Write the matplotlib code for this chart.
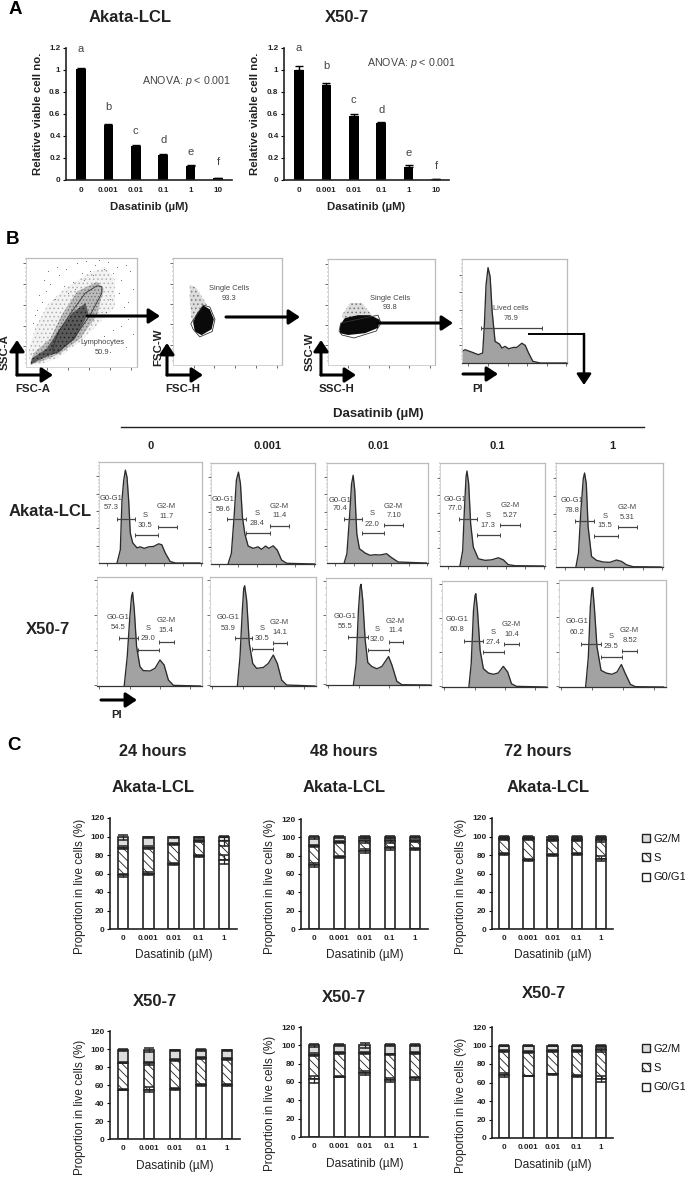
import matplotlib
matplotlib.use("Agg")
import numpy as np
import matplotlib.pyplot as plt
from matplotlib.legend import Legend
from matplotlib.patches import Polygon, Patch

plt.rcParams["font.family"] = ["Liberation Sans", "DejaVu Sans"]
plt.rcParams["mathtext.fontset"] = "custom"
plt.rcParams["mathtext.rm"] = "Liberation Sans"
plt.rcParams["mathtext.it"] = "Liberation Sans:italic"
plt.rcParams["hatch.linewidth"] = 0.6

W, H = 685, 1180
DARK = "#222222"
GRAY_TXT = "#444444"

# panel A
doses_a = ["0", "0.001", "0.01", "0.1", "1", "10"]
akata_viable = [1.01, 0.50, 0.305, 0.23, 0.13, 0.015]
akata_viable_err = [0.01, 0.005, 0.015, 0.005, 0.005, 0.002]
x50_viable = [1.0, 0.865, 0.585, 0.52, 0.12, 0.005]
x50_viable_err = [0.04, 0.02, 0.015, 0.005, 0.02, 0.002]
letters = ["a", "b", "c", "d", "e", "f"]
akata_letter_y = [1.19, 0.665, 0.445, 0.364, 0.255, 0.164]
x50_letter_y = [1.20, 1.036, 0.727, 0.636, 0.245, 0.127]

# panel B, gating plots (percent of the axes range)
lymph_haze = [(4.2, 1.5), (2.1, 13.8), (8, 35), (20, 58), (35, 72), (55, 85), (72, 92), (80, 80), (80, 55),
              (66.9, 41.5), (48.8, 23), (27.7, 7.7), (9.6, 1.5)]
lymph_mid = [(4.2, 3), (6.6, 12.3), (21.7, 26), (32.2, 47.7), (46, 69.2), (64, 78.2), (70, 72),
             (64, 47.7), (48.8, 26), (30.7, 12.3), (12.6, 4.6)]
lymph_dark = [(4.2, 2), (5.1, 7.7), (18.7, 16.9), (30.7, 35.4), (41.3, 49.2), (53.3, 58.5), (56.3, 49.2),
              (44.3, 26), (29.2, 13.8), (11.1, 6.2)]
lymph_gate = [(24.7, 12.3), (29.2, 13.8), (42.8, 26), (57.8, 47.7), (68.3, 67.7), (68.3, 73.8), (63.9, 74.5),
              (53.3, 67.7), (41.3, 50.8), (29.2, 32.3), (24.1, 16.9)]
lymph_sparse_x = [6, 10, 14, 8, 18, 12, 22, 16, 26, 30, 20, 34, 28, 38, 42, 36, 46, 50, 44, 54, 58, 52, 62, 66, 60, 70, 74,
                  68, 78, 82, 76, 86, 90, 84, 94, 88, 96, 92, 72, 80, 86, 92, 96, 78, 84, 90, 70, 76]
lymph_sparse_y = [40, 52, 60, 48, 70, 66, 76, 80, 62, 84, 88, 74, 92, 68, 78, 90, 95, 86, 72, 97, 88, 80, 94, 98, 84, 90, 96,
                  70, 86, 92, 62, 80, 94, 68, 88, 55, 72, 60, 50, 48, 38, 44, 30, 34, 24, 18, 28, 14]
fsc_haze = [(15.4, 75.2), (21.5, 72), (30.8, 56.7), (32.3, 44.3), (20, 35), (16.9, 44.3), (15.4, 59.9)]
fsc_dark = [(21.5, 47.4), (27.7, 55.7), (33.8, 52), (37.5, 42.7), (35.4, 33.4), (26.2, 27.9), (20, 31.3), (18.5, 39.7)]
fsc_gate = [(16.3, 38.7), (27.7, 56), (33.8, 54.2), (38.5, 42.7), (36, 31.3), (24.6, 26.3), (18.5, 33.4)]
ssc_haze = [(13, 47), (20.6, 58.5), (31.8, 58.5), (41, 47), (48.6, 42.5), (34.6, 37.7), (15.9, 37.7)]
ssc_dark = [(11.2, 37.7), (15.9, 44.3), (28, 47), (39.3, 47), (48.6, 42.5), (46.7, 35), (34.6, 30), (18.7, 28.3), (11.2, 30)]
ssc_gate = [(10.3, 32), (12, 39.6), (46.7, 47), (49.5, 39.6), (45, 32), (24.3, 25.5), (13, 28.3)]
live_x = [0, 2.9, 9.2, 15.6, 19.7, 21.3, 22.9, 24.8, 26.8, 28.7, 31.5, 35.7, 37.9, 41.1, 44.3, 49, 52.2, 57, 60.2, 63.4, 67.5, 74.5, 100]
live_y = [11.2, 12.8, 10.5, 8, 9.6, 36.7, 75, 91.7, 83, 49.5, 20.8, 18.2, 14.4, 16, 13.7, 15, 15, 19, 17, 9.6, 1.6, 0, 0]

# panel B, cell cycle histograms
akata_hist_x = [
    [17.5, 20.7, 22.3, 24, 25.6, 27.2, 28.8, 30.4, 32.7, 36.9, 40, 44, 48.2, 53, 58, 61, 64.3, 69, 74, 98],
    [16.4, 19.6, 22.2, 24.4, 26.4, 28.3, 30.2, 32.5, 35.7, 40.5, 45.3, 48.6, 52.4, 55.6, 59.8, 63.7, 67.8, 72.7, 100],
    [17, 19.7, 22.3, 24.3, 25.9, 27.5, 29.5, 32.1, 37.7, 42.6, 47.5, 52.5, 59, 64, 70.5, 98.4],
    [19, 21.6, 23.2, 24.8, 25.7, 27.3, 29.2, 31.7, 36.5, 42.9, 49.2, 55.6, 60.3, 65, 71.4, 98.4],
    [18.6, 21, 23.3, 25.5, 26.7, 28.3, 30, 33.2, 37.9, 44.1, 50.3, 56.5, 61.2, 65.8, 72, 98.4],
]
akata_hist_y = [
    [0, 13, 62, 82, 92, 85, 62, 29.5, 20, 15, 16, 14.5, 16, 16.4, 19, 18, 10, 1.6, 0, 0],
    [0, 10.5, 46.7, 83, 91, 79.6, 46.7, 30, 17.8, 15.5, 17, 14.5, 17.8, 15.5, 18, 13.8, 4, 0.7, 0],
    [0, 9.3, 46, 79, 87.7, 72.7, 29.3, 14.3, 10, 7.7, 8.3, 8, 9.3, 5.3, 1, 0],
    [0, 15, 54, 86.4, 92.2, 80, 41, 18.4, 7, 5.5, 6, 8, 6, 1.3, 0.3, 0],
    [0, 13.4, 54.8, 85, 90.4, 80.3, 38.9, 10.2, 6.4, 4.8, 4.5, 6.7, 5.4, 2.2, 0.3, 0],
]
x50_hist_x = [
    [25.9, 28.8, 31.3, 32.9, 33.9, 35.5, 37.7, 40.9, 44.1, 50.5, 55.3, 60, 63.9, 68, 72.8, 98.4],
    [25.8, 28.3, 30.5, 31.8, 32.7, 34.6, 37.1, 40.3, 44, 50.3, 55, 59.7, 63.5, 67.6, 72.3, 99],
    [26.1, 28.7, 30.9, 32.5, 33.4, 35, 37.3, 39.8, 43.6, 48.4, 53.2, 59.6, 62.7, 67.5, 72.3, 99.4],
    [25.6, 27.8, 30, 31.5, 32.2, 33.8, 36.3, 39.4, 44.2, 48.9, 53.6, 58.4, 62.5, 66.2, 71, 99.4],
    [24.9, 27.4, 29.3, 30.8, 31.5, 33, 35.5, 39.3, 44.2, 49.5, 54.2, 58.3, 62, 66.7, 71.3, 97.8],
]
x50_hist_y = [
    [0, 27, 63.8, 82.2, 85.9, 70, 36.2, 17.8, 14.1, 13.8, 16.3, 23.9, 19.3, 5.5, 0.6, 0],
    [0, 26.8, 69.5, 89.3, 92, 78.7, 39, 20.7, 16.2, 17, 20.7, 28.4, 20.7, 5.5, 0.9, 0],
    [0, 20.4, 70, 91.6, 94.1, 79.3, 42.1, 21, 17.3, 15.2, 17.3, 26.6, 18.9, 3.4, 0.3, 0],
    [0, 22, 72.3, 86.5, 88, 72.3, 34.6, 17.3, 13.2, 12, 13.2, 19.5, 14.2, 3.1, 0.6, 0],
    [0, 28, 75, 92.2, 93, 75, 37.5, 15.6, 13, 11.9, 14, 21, 12.5, 2.5, 0.3, 0],
]
# gate: start, g0 end / s start, s end / g2 start, g2 end, then heights of the g0, s, g2 gates
akata_gates = [
    (17, 34.5, 57, 75.7, 44, 28, 36), (15.8, 34, 56.6, 75.2, 44.7, 31, 38), (17, 34.8, 56.7, 75.4, 44, 30, 37.7),
    (17.8, 35.6, 57.5, 76.2, 45.3, 30.4, 39.5), (18, 35.7, 57.8, 76, 44, 30, 38),
]
x50_gates = [
    (20.8, 39.3, 59.4, 73.2, 43.6, 33.4, 40.8), (23.6, 39.3, 59.4, 73, 44, 33.8, 39.6), (21, 39.8, 59.6, 73.2, 45.2, 32.8, 40.6),
    (20.8, 39.4, 59.3, 73.2, 43.7, 32.7, 40.3), (20.2, 39.3, 59.2, 72.9, 40, 28, 33.8),
]
akata_pct = [("57.3", "30.5", "11.7"), ("59.6", "28.4", "11.4"), ("70.4", "22.0", "7.10"), ("77.0", "17.3", "5.27"), ("78.8", "15.5", "5.31")]
x50_pct = [("54.5", "29.0", "15.4"), ("53.9", "30.5", "14.1"), ("55.5", "32.0", "11.4"), ("60.8", "27.4", "10.4"), ("60.2", "29.5", "8.52")]
# label anchor: g0 x, g0 y name, g0 y value, s x, s y name, s y value, g2 x, g2 y name, g2 y value
akata_lab = [
    (12, 64, 54.6, 45, 47, 37.4, 65.4, 55.7, 46), (11.6, 63.8, 54, 44.4, 49.7, 40, 65.6, 57, 47.7), (12.5, 62.7, 54, 45, 49.3, 39, 66, 57, 47.3),
    (14.6, 65, 56.3, 46, 49.5, 39.8, 66.7, 58.6, 49.2), (15, 63.7, 54, 46, 49, 39.5, 66.5, 57.3, 47.8),
]
x50_lab = [
    (20, 63.2, 54, 48.9, 52.5, 43.3, 66, 59.8, 50.6), (17.3, 62.5, 52.7, 49, 52.7, 43.3, 65.7, 58.5, 49.4), (18.5, 64, 54.8, 48.7, 51.7, 42.4, 66.2, 59.8, 50.5),
    (14.5, 63.8, 54.4, 48.3, 51.6, 41.8, 66.2, 59.4, 50), (17.1, 61, 51.3, 48.6, 47.5, 37.5, 66, 53, 43.4),
]

# panel C
doses_c = ["0", "0.001", "0.01", "0.1", "1"]
g0_a24 = [58, 60, 70, 79, 75]; s_a24 = [30, 28, 22, 16, 20]; g2_a24 = [11, 11, 7, 4, 5]
g0_a48 = [70, 79, 85, 88, 87]; s_a48 = [21, 16, 11, 8, 9]; g2_a48 = [9, 5, 4, 4, 4]
g0_a72 = [81, 75, 80, 81, 76]; s_a72 = [16, 22, 16, 15, 20]; g2_a72 = [2.5, 2.5, 3.5, 3.5, 3.5]
g0_x24 = [55, 55, 56, 60, 60]; s_x24 = [30, 29, 32, 30, 29]; g2_x24 = [14, 15, 10.5, 9, 9.5]
g0_x48 = [63, 66, 70, 62, 64]; s_x48 = [27, 26, 22, 28, 28]; g2_x48 = [10, 8, 8, 10, 8]
g0_x72 = [68, 67, 69, 67, 64]; s_x72 = [26, 26, 25, 27, 31]; g2_x72 = [6, 7, 6, 6, 5]
e0_a24 = [2, 2, 1, 1, 5]; es_a24 = [1.5, 1.5, 1.5, 1, 5]; eg_a24 = [3, 1, 1, 1, 1]
e0_a48 = [2, 1, 2, 2, 1]; es_a48 = [1, 1, 2, 2, 1.5]; eg_a48 = [2, 1, 1, 1, 1]
e0_a72 = [1, 1, 1, 1, 3]; es_a72 = [1, 1, 1, 1, 2]; eg_a72 = [1, 1, 1, 1, 1]
e0_x24 = [1, 3, 1, 1, 1]; es_x24 = [0.5, 2, 1, 1, 1]; eg_x24 = [1, 2, 0.5, 1, 0.5]
e0_x48 = [4, 1, 2, 2, 2]; es_x48 = [2, 1, 1, 1, 1]; eg_x48 = [2, 1, 3, 1, 1]
e0_x72 = [2, 0.5, 0.5, 1.5, 3]; es_x72 = [1, 1, 1, 1, 2]; eg_x72 = [1, 1, 1, 1, 1]

fig = plt.figure(figsize=(W / 100, H / 100), dpi=100)


def px_ax(x0, x1, ytop, ybot):
    return fig.add_axes([x0 / W, 1 - ybot / H, (x1 - x0) / W, (ybot - ytop) / H])


def bar_axes(box, first, last, ymax, yticks):
    x0, x1, ytop, ybot = box
    ax = px_ax(x0, x1, ytop, ybot)
    n = (last[1] - first[1]) / last[0]
    ax.set_xlim((x0 - first[1]) / n, (x1 - first[1]) / n)
    ax.set_ylim(0, ymax)
    ax.set_yticks(yticks)
    for s in ["top", "right"]:
        ax.spines[s].set_visible(False)
    for s in ["left", "bottom"]:
        ax.spines[s].set_linewidth(1.2)
        ax.spines[s].set_color(DARK)
    return ax


def viability(box, first, last, vals, errs, letter_y, ylab_x):
    ax = bar_axes(box, (0, first), (5, last), 1.2, [0, 0.2, 0.4, 0.6, 0.8, 1, 1.2])
    ax.set_yticklabels(["0", "0.2", "0.4", "0.6", "0.8", "1", "1.2"], fontsize=5.8, fontweight="bold", color=DARK)
    x = np.arange(6)
    ax.bar(x, vals, 0.35, color="black", yerr=[np.zeros(6), errs], error_kw=dict(ecolor="black", lw=1, capsize=3, capthick=1))
    ax.set_xticks(x)
    ax.set_xticklabels(doses_a, fontsize=5.8, fontweight="bold", color=DARK)
    ax.tick_params(axis="x", length=0, pad=5)
    ax.tick_params(axis="y", length=2, width=0.8, pad=2)
    for i in range(6):
        ax.text(i, letter_y[i], letters[i], ha="center", va="center", fontsize=8, color=GRAY_TXT)
    ax.set_ylabel("Relative viable cell no.", fontsize=8.2, fontweight="bold", color=DARK)
    ax.yaxis.set_label_coords((ylab_x - box[0]) / (box[1] - box[0]), 0.5)
    ax.set_xlabel("Dasatinib (µM)", fontsize=8.2, fontweight="bold", color=DARK)
    ax.xaxis.set_label_coords(0.5, -(207 - box[3]) / (box[3] - box[2]))
    ax.xaxis.label.set_va("center")
    ax.yaxis.label.set_va("center")
    return ax


viability((66, 232, 48, 180), 81, 218, akata_viable, akata_viable_err, akata_letter_y, 38)
viability((284, 449, 48, 180), 299, 436, x50_viable, x50_viable_err, x50_letter_y, 255)


def flow_frame(ax, xt, xm, yt, ym, dark_bottom=False):
    ax.set_xlim(0, 100)
    ax.set_ylim(0, 100)
    for s in ["top", "right"]:
        ax.spines[s].set_color("#bbbbbb")
        ax.spines[s].set_linewidth(0.9)
    ax.spines["left"].set_color("#cccccc")
    ax.spines["bottom"].set_color("#333333" if dark_bottom else "#cccccc")
    ax.spines["left"].set_linewidth(0.6)
    ax.spines["bottom"].set_linewidth(0.9 if dark_bottom else 0.6)
    ax.set_xticks(xt)
    ax.set_xticks(xm, minor=True)
    ax.set_yticks(yt)
    ax.set_yticks(ym, minor=True)
    ax.set_xticklabels([])
    ax.set_yticklabels([])
    ax.tick_params(which="major", length=2.5, width=0.5, color="#333333")
    ax.tick_params(which="minor", length=1, width=0.3, color="#555555")


def dot_plot(box, layers, gate):
    ax = px_ax(*box)
    flow_frame(ax, np.arange(19, 100, 19), np.arange(3.8, 100, 3.8), np.arange(19, 100, 19), np.arange(3.8, 100, 3.8))
    for pts, fc, hatch, ec in layers:
        ax.add_patch(Polygon(pts, closed=True, facecolor=fc, hatch=hatch, edgecolor=ec, lw=0))
    ax.add_patch(Polygon(gate, closed=True, fill=False, edgecolor="#333333", lw=0.6))
    return ax


ax = dot_plot((26, 137, 258, 367), [(lymph_haze, "#f3f3f3", "....", "#b0b0b0"), (lymph_mid, "#bbbbbb", ".....", "#777777"),
                                    (lymph_dark, "#5a5a5a", "....", "#222222")], lymph_gate)
ax.scatter(lymph_sparse_x, lymph_sparse_y, s=0.6, color="#666666", lw=0)
ax.text(68.4, 22.5, "Lymphocytes", ha="center", va="center", fontsize=5.4, color=GRAY_TXT)
ax.text(68.4, 13.2, "50.9", ha="center", va="center", fontsize=5.4, color=GRAY_TXT)
ax = dot_plot((173, 282, 258, 365), [(fsc_haze, "#dddddd", "....", "#777777"), (fsc_dark, "#0a0a0a", None, "#0a0a0a")], fsc_gate)
ax.text(51.4, 71.5, "Single Cells", ha="center", va="center", fontsize=5.4, color=GRAY_TXT)
ax.text(51.4, 62.2, "93.3", ha="center", va="center", fontsize=5.4, color=GRAY_TXT)
ax = dot_plot((328, 435, 259, 365), [(ssc_haze, "#dddddd", "....", "#777777"), (ssc_dark, "#0a0a0a", None, "#0a0a0a")], ssc_gate)
ax.text(58, 63, "Single Cells", ha="center", va="center", fontsize=5.4, color=GRAY_TXT)
ax.text(58, 53.8, "93.8", ha="center", va="center", fontsize=5.4, color=GRAY_TXT)


def hist_plot(box, xs, ys, xt, xm, yt, ym):
    ax = px_ax(*box)
    flow_frame(ax, xt, xm, yt, ym, dark_bottom=True)
    ax.fill_between(xs, ys, 0, color="#a2a2a2", lw=0)
    ax.plot(xs, ys, color="#2a2a2a", lw=0.95)
    return ax


def gate_bar(ax, x0, x1, y):
    ax.errorbar([(x0 + x1) / 2], [y], xerr=[(x1 - x0) / 2], color="#444444", lw=0.9, capsize=1.5, capthick=0.7)


ax = hist_plot((462, 567, 259, 363), live_x, live_y, np.arange(6, 100, 18.7), np.arange(6, 100, 3.7), np.arange(17, 100, 17), np.arange(3.4, 100, 3.4))
gate_bar(ax, 17.8, 76.4, 34)
ax.text(46.8, 52, "Lived cells", ha="center", va="center", fontsize=5.4, color=GRAY_TXT)
ax.text(46.8, 43, "76.9", ha="center", va="center", fontsize=5.4, color=GRAY_TXT)

akata_boxes = [(99, 202, 462, 563), (211, 315, 463, 564), (327, 428, 463, 563), (440, 545, 463, 566), (556, 663, 463, 567)]
x50_boxes = [(97, 202, 577, 686), (210, 316, 577, 686), (326, 431, 578, 685), (442, 547, 581, 687), (559, 666, 580, 687)]


def cycle_row(boxes, hx, hy, gates, labs, pcts, xt, xm, yt, ym):
    for i in range(5):
        ax = hist_plot(boxes[i], hx[i], hy[i], xt, xm, yt, ym)
        g = gates[i]
        gate_bar(ax, g[0], g[1], g[4])
        gate_bar(ax, g[1], g[2], g[5])
        gate_bar(ax, g[2], g[3], g[6])
        l = labs[i]
        for x, y, t in [(l[0], l[1], "G0-G1"), (l[0], l[2], pcts[i][0]), (l[3], l[4], "S"), (l[3], l[5], pcts[i][1]),
                        (l[6], l[7], "G2-M"), (l[6], l[8], pcts[i][2])]:
            ax.text(x, y, t, ha="center", va="center", fontsize=5.5, color=GRAY_TXT)


cycle_row(akata_boxes, akata_hist_x, akata_hist_y, akata_gates, akata_lab, akata_pct,
          np.arange(8, 100, 18.3), np.arange(8, 100, 3.66), np.arange(17, 100, 17.2), np.arange(3.4, 100, 3.44))
cycle_row(x50_boxes, x50_hist_x, x50_hist_y, x50_gates, x50_lab, x50_pct,
          np.arange(2, 100, 29), np.arange(2, 100, 5.8), np.arange(1, 100, 32), np.arange(1, 100, 6.4))


def stacked(box, first, last, g0, s, g2, e0, es, eg, ylab_x, ylab_y, xlab_y):
    ax = bar_axes(box, (0, first), (4, last), 120, [0, 20, 40, 60, 80, 100, 120])
    ax.tick_params(axis="y", length=2, width=0.8, pad=2, labelsize=6, labelcolor=DARK)
    for t in ax.get_yticklabels():
        t.set_fontweight("bold")
    x = np.arange(5)
    g0 = np.array(g0)
    s = np.array(s)
    g2 = np.array(g2)
    bw = 10.5 / ((last - first) / 4)
    ekw = dict(ecolor="#222222", lw=0.9, capsize=3.5, capthick=1.1)
    ax.bar(x, g2, bw, bottom=g0 + s, facecolor="#dcdcdc", edgecolor=DARK, lw=1.2, yerr=eg, error_kw=ekw)
    ax.bar(x, s, bw, bottom=g0, facecolor="white", edgecolor=DARK, hatch="\\\\\\\\", lw=1.2, yerr=es, error_kw=ekw)
    ax.bar(x, g0, bw, facecolor="white", edgecolor=DARK, lw=1.2, yerr=e0, error_kw=ekw)
    ax.set_xticks(x)
    ax.set_xticklabels(doses_c, fontsize=5.8, fontweight="bold", color=DARK)
    ax.tick_params(axis="x", length=0, pad=4.5)
    ax.set_ylabel("Proportion in live cells (%)", fontsize=8.4, color=DARK)
    ax.yaxis.label.set_va("center")
    ax.yaxis.set_label_coords((ylab_x - box[0]) / (box[1] - box[0]), (box[3] - ylab_y) / (box[3] - box[2]))
    ax.set_xlabel("Dasatinib (µM)", fontsize=8.6, color=DARK)
    ax.xaxis.label.set_va("center")
    ax.xaxis.set_label_coords(0.5, -(xlab_y - box[3]) / (box[3] - box[2]))
    return ax


stacked((110, 237, 818, 929), 123, 224, g0_a24, s_a24, g2_a24, e0_a24, es_a24, eg_a24, 80, 886, 955)
stacked((301, 428, 819, 929), 314, 415, g0_a48, s_a48, g2_a48, e0_a48, es_a48, eg_a48, 270, 886, 955)
stacked((492, 613, 818, 929), 504, 601, g0_a72, s_a72, g2_a72, e0_a72, es_a72, eg_a72, 461, 886, 955)
stacked((110, 240, 1031, 1139), 123, 227, g0_x24, s_x24, g2_x24, e0_x24, es_x24, eg_x24, 80, 1107, 1166)
stacked((301, 428, 1027, 1137), 314, 415, g0_x48, s_x48, g2_x48, e0_x48, es_x48, eg_x48, 270, 1103, 1164)
stacked((492, 613, 1027, 1138), 504, 601, g0_x72, s_x72, g2_x72, e0_x72, es_x72, eg_x72, 461, 1105, 1165)

# overlay in picture pixels for headings, arrows and lines between panels
ov = fig.add_axes([0, 0, 1, 1], facecolor="none")
ov.set_xlim(0, W)
ov.set_ylim(H, 0)
ov.axis("off")


def arrow(x0, y0, x1, y1, lw=2.2, ms=11):
    ov.annotate("", xy=(x1, y1), xytext=(x0, y0),
                arrowprops=dict(arrowstyle="-|>,head_length=0.6,head_width=0.4", lw=lw, color="black", mutation_scale=ms, shrinkA=0, shrinkB=0))


def txt(x, y, s, size=8, weight="bold", color=DARK, rot=0):
    ov.text(x, y, s, ha="center", va="center", fontsize=size, fontweight=weight, color=color, rotation=rot)


for x, y, s in [(15, 9, "A"), (13, 240, "B"), (14, 745, "C")]:
    txt(x, y, s, size=13.5, color="black")
txt(130, 18, "Akata-LCL", 12)
txt(347, 18, "X50-7", 12)
txt(187, 81, r"ANOVA: $\mathit{p}$ < 0.001", 7.7, "normal", GRAY_TXT)
txt(412, 63, r"ANOVA: $\mathit{p}$ < 0.001", 7.7, "normal", GRAY_TXT)

for x0, x1, y in [(87, 160, 316), (226, 300, 317), (378, 453, 323), (463, 498, 374), (101, 137, 700)]:
    arrow(x0, y, x1, y)
ov.plot([529, 584], [334, 334], color="black", lw=1.4)
arrow(584, 334, 584, 385, lw=1.8)
for cx, cy, ux, rx in [(17, 375, 340, 53), (167, 375, 343, 203), (321, 375, 340, 356)]:
    arrow(cx, cy, cx, ux)
    arrow(cx, cy, rx, cy)
txt(33, 389, "FSC-A", 8.2)
txt(183, 389, "FSC-H", 8.2)
txt(336, 389, "SSC-H", 8.2)
txt(478, 389, "PI", 8.2)
txt(117, 715, "PI", 8.2)
txt(5, 352, "SSC-A", 8.2, rot=90)
txt(158, 347, "FSC-W", 8.2, rot=90)
txt(310, 352, "SSC-W", 8.2, rot=90)
txt(378, 414, "Dasatinib (µM)", 9.5)
ov.plot([121, 644], [427, 427], color=DARK, lw=1)
for x, s in zip([151, 268, 378, 497, 612], ["0", "0.001", "0.01", "0.1", "1"]):
    txt(x, 446, s, 8)
txt(50, 512, "Akata-LCL", 12)
txt(48, 629, "X50-7", 12)

for x, s in zip([153, 344, 538], ["24 hours", "48 hours", "72 hours"]):
    txt(x, 752, s, 11.7)
for x, y in [(153, 788), (344, 788), (548, 787)]:
    txt(x, y, "Akata-LCL", 12)
for x, y in [(155, 1001), (344, 997), (544, 994)]:
    txt(x, y, "X50-7", 12)

handles = [Patch(facecolor="#dcdcdc", edgecolor=DARK, lw=1), Patch(facecolor="white", edgecolor=DARK, hatch="\\\\\\\\", lw=1),
           Patch(facecolor="white", edgecolor=DARK, lw=1)]
for cy in [858, 1068]:
    ov.add_artist(Legend(ov, handles, ["G2/M", "S", "G0/G1"], loc="center left", bbox_to_anchor=(642, cy), bbox_transform=ov.transData,
                         frameon=False, fontsize=8, labelcolor="#111111", handlelength=0.75, handleheight=0.75, handletextpad=0.25,
                         labelspacing=0.85, borderpad=0, borderaxespad=0))

fig.savefig("out.png", dpi=100)
